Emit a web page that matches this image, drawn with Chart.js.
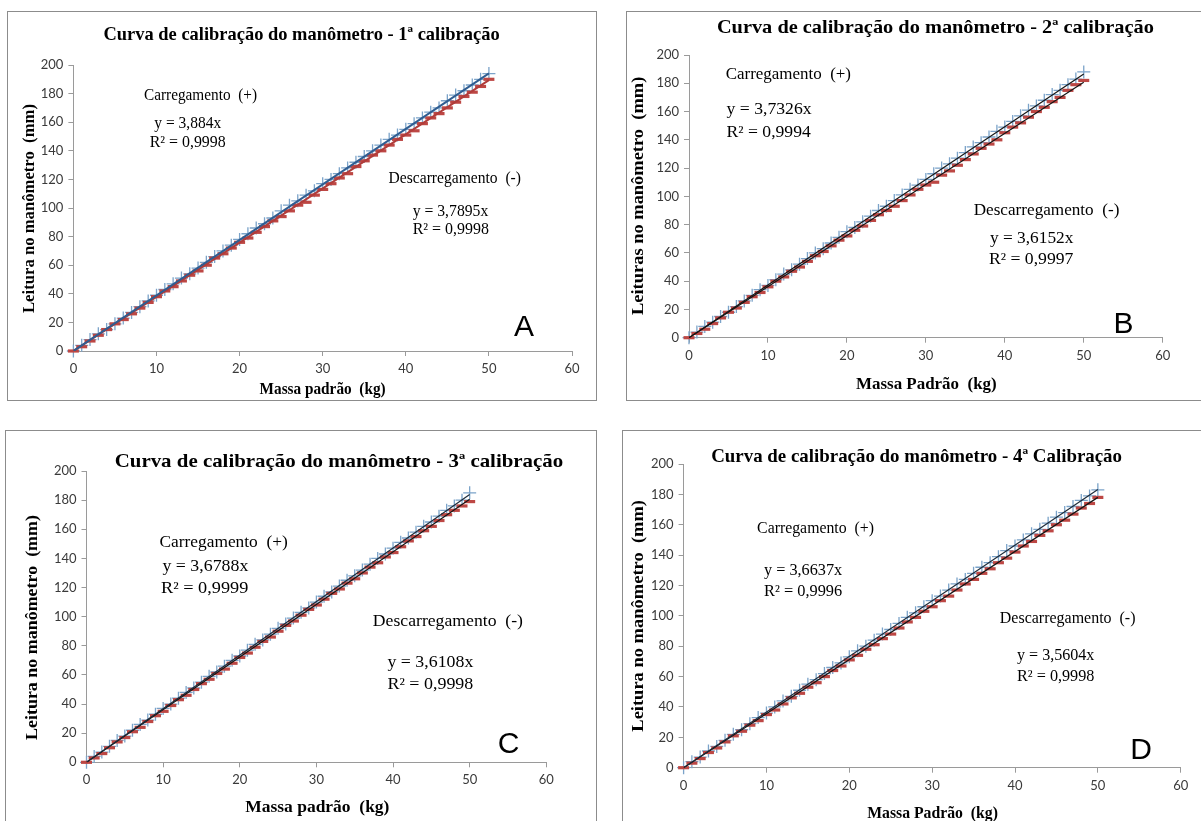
<!DOCTYPE html>
<html lang="pt-BR">
<head>
<meta charset="utf-8">
<title>Curvas de calibração do manômetro</title>
<script src="https://cdn.jsdelivr.net/npm/chart.js@4.4.0/dist/chart.umd.min.js"></script>
<style>
  html, body { margin: 0; padding: 0; background: #fff; }
  #tela { position: relative; width: 1201px; height: 821px; overflow: hidden; }
  .moldura { position: absolute; border: 1px solid #8c8c8c; box-sizing: border-box; }
  canvas { position: absolute; left: 0; top: 0; }
</style>
</head>
<body>
<div id="tela"></div>
<script>
// massa padrão aplicada (kg)
const massaKg = [0, 1, 2, 3, 4, 5, 6, 7, 8, 9, 10, 11, 12, 13, 14, 15, 16, 17, 18, 19, 20,
  21, 22, 23, 24, 25, 26, 27, 28, 29, 30, 31, 32, 33, 34, 35, 36, 37, 38, 39, 40,
  41, 42, 43, 44, 45, 46, 47, 48, 49, 50];

// leituras no manômetro (mm) - carregamento (+) e descarregamento (-)
const carga1 = [0, 4, 8, 12, 15, 19, 23, 27, 31, 35, 39, 43, 47, 51, 54, 58, 62, 66, 70, 74,
  78, 82, 86, 89, 93, 98, 102, 105, 109, 112, 117, 120, 124, 128, 132, 136, 140, 144, 148, 151,
  155, 159, 163, 167, 170, 175, 179, 182, 186, 190, 194];
const descarga1 = [0, 3, 7, 11, 15, 19, 22, 26, 30, 34, 38, 42, 45, 49, 53, 56, 60, 65, 68, 72,
  76, 79, 83, 87, 91, 94, 98, 102, 104, 109, 113, 117, 121, 124, 129, 133, 137, 140, 144, 148,
  151, 154, 159, 163, 166, 170, 174, 178, 181, 185, 190];

const carga2 = [0, 4, 8, 11, 15, 18, 22, 26, 30, 34, 37, 41, 45, 48, 52, 56, 60, 63, 67, 71,
  75, 78, 82, 86, 90, 93, 97, 101, 105, 108, 112, 116, 120, 123, 127, 131, 135, 138, 142, 146,
  149, 153, 157, 161, 164, 168, 172, 175, 179, 183, 188];
const descarga2 = [0, 3, 6, 10, 14, 18, 21, 25, 29, 32, 36, 40, 43, 47, 50, 54, 58, 61, 65, 69,
  72, 76, 79, 83, 87, 90, 93, 97, 101, 105, 108, 110, 115, 118, 122, 126, 130, 134, 137, 140,
  145, 149, 152, 156, 160, 163, 167, 170, 175, 179, 182];

const carga3 = [0, 4, 7, 11, 15, 18, 22, 26, 29, 33, 37, 40, 44, 48, 51, 55, 59, 62, 66, 70,
  73, 77, 81, 84, 88, 92, 95, 99, 103, 106, 110, 114, 117, 121, 125, 128, 132, 136, 140, 143,
  147, 151, 154, 158, 162, 165, 169, 173, 176, 180, 185];
const descarga3 = [0, 3, 6, 10, 14, 17, 21, 24, 28, 32, 35, 39, 43, 46, 50, 54, 57, 61, 64, 68,
  72, 75, 79, 83, 86, 90, 94, 97, 101, 105, 108, 112, 116, 119, 123, 126, 130, 134, 137, 141,
  144, 148, 152, 155, 159, 162, 166, 170, 173, 176, 179];

const carga4 = [0, 4, 7, 11, 14, 18, 22, 25, 29, 33, 36, 40, 44, 47, 51, 55, 58, 62, 66, 69,
  73, 77, 80, 84, 88, 91, 95, 99, 102, 106, 110, 113, 117, 121, 124, 128, 132, 135, 139, 143,
  146, 150, 154, 157, 161, 165, 168, 172, 176, 179, 183];
const descarga4 = [0, 3, 6, 10, 13, 17, 21, 24, 28, 31, 35, 38, 42, 46, 49, 53, 56, 60, 64, 67,
  71, 74, 78, 81, 85, 88, 92, 96, 99, 103, 106, 110, 113, 117, 121, 124, 128, 131, 135, 138,
  142, 146, 149, 153, 156, 160, 163, 167, 171, 174, 178];

// linhas de tendência (pela origem) e coeficientes de determinação
const inclinacaoCarga = [3.884, 3.7326, 3.6788, 3.6637];
const r2Carga = [0.9998, 0.9994, 0.9999, 0.9996];
const inclinacaoDescarga = [3.7895, 3.6152, 3.6108, 3.5604];
const r2Descarga = [0.9998, 0.9997, 0.9998, 0.9998];

const ticksX = [0, 10, 20, 30, 40, 50, 60];
const ticksY = [0, 20, 40, 60, 80, 100, 120, 140, 160, 180, 200];

const titulos = [
  'Curva de calibração do manômetro - 1ª calibração',
  'Curva de calibração do manômetro - 2ª calibração',
  'Curva de calibração do manômetro - 3ª calibração',
  'Curva de calibração do manômetro - 4ª Calibração'
];
const titulosY = ['Leitura no manômetro  (mm)', 'Leituras no manômetro  (mm)',
  'Leitura no manômetro  (mm)', 'Leitura no manômetro  (mm)'];
const titulosX = ['Massa padrão  (kg)', 'Massa Padrão  (kg)', 'Massa padrão  (kg)', 'Massa Padrão  (kg)'];
const letras = ['A', 'B', 'C', 'D'];

const cargas = [carga1, carga2, carga3, carga4];
const descargas = [descarga1, descarga2, descarga3, descarga4];

// posição de cada quadro na página: moldura [esq, topo, dir, base], área [x0, x60, y200, y0]
// textos: [x inicial, x final, y central]
const layout = [
  { moldura: [7, 11, 597, 401], area: [73.4, 572, 65, 351],
    tendC: '#2f5d91', tendD: '#b03c3a', espTend: 2,
    titulo: [103.5, 499.6, 35], eixoY: [30, 104, 313], eixoX: [259.6, 385.6, 390],
    rotC: [144, 257, 95.7], eqC: [154.3, 221.2, 123.3], r2C: [149.7, 225.7, 142.3],
    rotD: [388.6, 521, 179], eqD: [412.7, 488.3, 211.7], r2D: [412.7, 489, 230], letra: [523.9, 325] },
  { moldura: [626, 11, 1210, 401], area: [689, 1162.7, 55, 337.7],
    tendC: '#151515', tendD: '#151515', espTend: 1.2,
    titulo: [716.9, 1153.9, 28.3], eixoY: [638.3, 76.7, 315], eixoX: [856, 996.7, 385],
    rotC: [725.7, 851, 75], eqC: [726.5, 811.6, 110], r2C: [726.5, 810.8, 132.7],
    rotD: [973.7, 1119.4, 211], eqD: [990, 1073.4, 238.3], r2D: [989, 1073.4, 259.3], letra: [1123.5, 321.7] },
  { moldura: [5, 430, 597, 830], area: [86.5, 546.3, 471, 762.3],
    tendC: '#1c2b3a', tendD: '#151515', espTend: 1.2,
    titulo: [114.7, 563.2, 462.3], eixoY: [33, 515, 740], eixoX: [245.3, 389.4, 807.3],
    rotC: [159.5, 287.8, 542.3], eqC: [162.5, 248.3, 566.7], r2C: [161, 248.3, 588.3],
    rotD: [372.8, 523, 622], eqD: [387.5, 473.3, 662.7], r2D: [387.5, 473.3, 684.3], letra: [508.5, 741.7] },
  { moldura: [622, 430, 1210, 830], area: [683.6, 1180.7, 464, 767.7],
    tendC: '#1c2b3a', tendD: '#151515', espTend: 1.2,
    titulo: [711.2, 1122, 456.7], eixoY: [638.3, 500, 731.7], eixoX: [867.2, 997.9, 813.3],
    rotC: [757.1, 874, 529], eqC: [764, 842.2, 571], r2C: [764, 842.2, 591.7],
    rotD: [999.8, 1135.5, 618.3], eqD: [1017, 1094.4, 656], r2D: [1017, 1094.4, 676.7], letra: [1141, 748.3] }
];

const SERIF = '"Liberation Serif", "Times New Roman", serif';
const virgula = v => String(v).replace('.', ',');

// escreve o texto esticado/comprimido para ocupar a largura indicada
function escreve(ctx, texto, [x1, x2, yc], fonte) {
  ctx.save();
  ctx.font = fonte;
  ctx.fillStyle = '#000';
  ctx.textAlign = 'left';
  ctx.textBaseline = 'middle';
  const w = ctx.measureText(texto).width;
  ctx.translate(x1, yc);
  ctx.scale((x2 - x1) / w, 1);
  ctx.fillText(texto, 0, 0);
  ctx.restore();
}

function escreveVertical(ctx, texto, [xc, y1, y2], fonte) {
  ctx.save();
  ctx.font = fonte;
  ctx.fillStyle = '#000';
  ctx.textAlign = 'left';
  ctx.textBaseline = 'middle';
  const w = ctx.measureText(texto).width;
  ctx.translate(xc, y2);
  ctx.rotate(-Math.PI / 2);
  ctx.scale((y2 - y1) / w, 1);
  ctx.fillText(texto, 0, 0);
  ctx.restore();
}

const tela = document.getElementById('tela');

layout.forEach((L, i) => {
  const [mx1, my1, mx2, my2] = L.moldura;
  const moldura = document.createElement('div');
  moldura.className = 'moldura';
  moldura.style.left = mx1 + 'px';
  moldura.style.top = my1 + 'px';
  moldura.style.width = (mx2 - mx1) + 'px';
  moldura.style.height = (my2 - my1) + 'px';
  tela.appendChild(moldura);

  const cv = document.createElement('canvas');
  cv.width = 1201;
  cv.height = 821;
  tela.appendChild(cv);

  const [ax0, ax1, ay0, ay1] = L.area;
  const larguraY = 45, alturaX = 25;

  const textos = {
    id: 'textos' + i,
    afterDraw(chart) {
      const ctx = chart.ctx;
      escreve(ctx, titulos[i], L.titulo, 'bold 19px ' + SERIF);
      escreveVertical(ctx, titulosY[i], L.eixoY, 'bold 17px ' + SERIF);
      escreve(ctx, titulosX[i], L.eixoX, 'bold 17px ' + SERIF);
      const f = '16.5px ' + SERIF;
      escreve(ctx, 'Carregamento  (+)', L.rotC, f);
      escreve(ctx, 'y = ' + virgula(inclinacaoCarga[i]) + 'x', L.eqC, f);
      escreve(ctx, 'R² = ' + virgula(r2Carga[i]), L.r2C, f);
      escreve(ctx, 'Descarregamento  (-)', L.rotD, f);
      escreve(ctx, 'y = ' + virgula(inclinacaoDescarga[i]) + 'x', L.eqD, f);
      escreve(ctx, 'R² = ' + virgula(r2Descarga[i]), L.r2D, f);
      ctx.save();
      ctx.font = '30px "Liberation Sans", Arial, sans-serif';
      ctx.fillStyle = '#000';
      ctx.textAlign = 'center';
      ctx.textBaseline = 'alphabetic';
      ctx.fillText(letras[i], L.letra[0], L.letra[1] + 10.8);
      ctx.restore();
    }
  };

  const eixo = (lista) => ({
    type: 'linear',
    min: lista[0],
    max: lista[lista.length - 1],
    afterBuildTicks: sc => { sc.ticks = lista.map(v => ({ value: v })); },
    grid: { display: true, drawOnChartArea: false, drawTicks: true, tickLength: 5, color: '#9a9a9a' },
    border: { display: true, color: '#9a9a9a', width: 1 },
    ticks: { color: '#3a3a3a', font: { family: 'Lato', size: 13 }, padding: 5 }
  });

  const escalaX = eixo(ticksX);
  escalaX.afterFit = sc => { sc.height = alturaX; };
  const escalaY = eixo(ticksY);
  escalaY.afterFit = sc => { sc.width = larguraY; };

  new Chart(cv, {
    type: 'scatter',
    data: {
      datasets: [
        {
          label: 'Tendência carregamento',
          data: [{ x: 0, y: 0 }, { x: 50, y: inclinacaoCarga[i] * 50 }],
          showLine: true, pointRadius: 0, borderColor: L.tendC, borderWidth: L.espTend, order: 0
        },
        {
          label: 'Tendência descarregamento',
          data: [{ x: 0, y: 0 }, { x: 50, y: inclinacaoDescarga[i] * 50 }],
          showLine: true, pointRadius: 0, borderColor: L.tendD, borderWidth: L.espTend, order: 0
        },
        {
          label: 'Carregamento (+)',
          data: massaKg.map((x, k) => ({ x, y: cargas[i][k] })),
          pointStyle: 'cross', pointRadius: 6.5, borderColor: '#7ba3c9', borderWidth: 1.3,
          clip: false, order: 2
        },
        {
          label: 'Descarregamento (-)',
          data: massaKg.map((x, k) => ({ x, y: descargas[i][k] })),
          pointStyle: 'line', pointRadius: 5.5, borderColor: '#bd4744', borderWidth: 3.2,
          clip: false, order: 1
        }
      ]
    },
    options: {
      responsive: false,
      animation: false,
      devicePixelRatio: 1,
      layout: {
        padding: { left: ax0 - larguraY, right: 1201 - ax1, top: ay0, bottom: 821 - ay1 - alturaX }
      },
      plugins: { legend: { display: false }, tooltip: { enabled: false }, title: { display: false } },
      scales: { x: escalaX, y: escalaY }
    },
    plugins: [textos]
  });
});
</script>
</body>
</html>
